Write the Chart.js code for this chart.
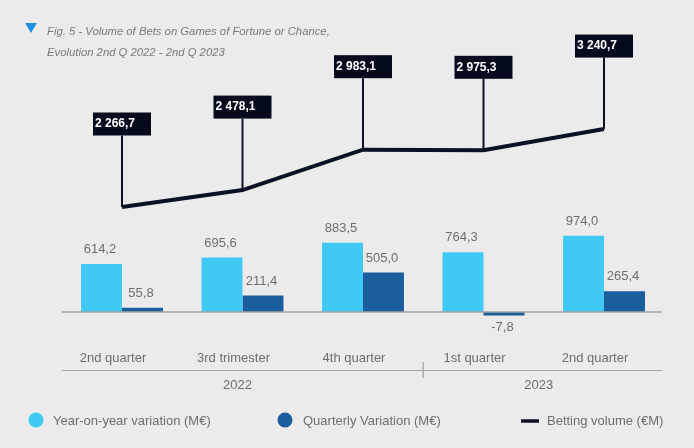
<!DOCTYPE html>
<html>
<head>
<meta charset="utf-8">
<script src="https://cdn.jsdelivr.net/npm/chart.js@4/dist/chart.umd.min.js"></script>
<style>
  html, body { margin: 0; padding: 0; background: #ebebeb; }
  #wrap { width: 694px; height: 448px; position: relative; }
</style>
</head>
<body>
<div id="wrap"><canvas id="c" width="694" height="448"></canvas></div>
<script>
const titleLines = ['Fig. 5 - Volume of Bets on Games of Fortune or Chance,', 'Evolution 2nd Q 2022 - 2nd Q 2023'];
const categories = ['2nd quarter', '3rd trimester', '4th quarter', '1st quarter', '2nd quarter'];
const years = ['2022', '2023'];
const yearGroups = [[0, 2], [3, 4]];
const seriesNames = ['Year-on-year variation (M€)', 'Quarterly Variation (M€)', 'Betting volume (€M)'];
const yoyVariation = [614.2, 695.6, 883.5, 764.3, 974.0];
const quarterlyVariation = [55.8, 211.4, 505.0, -7.8, 265.4];
const bettingVolume = [2266.7, 2478.1, 2983.1, 2975.3, 3240.7];

const FONT = "'Liberation Sans', Arial, sans-serif";
const C_LIGHT = '#41c9f6';
const C_DARK = '#1b5e9c';
const C_LINE = '#0b1226';
const C_TEXT = '#6e6e6e';

function fmt(v) {
  const parts = Math.abs(v).toFixed(1).split('.');
  return (v < 0 ? '-' : '') + parts[0].replace(/\B(?=(\d{3})+(?!\d))/g, ' ') + ',' + parts[1];
}

const decor = {
  id: 'decor',
  beforeDraw(chart) {
    const ctx = chart.ctx;
    ctx.save();
    ctx.fillStyle = '#ebebeb';
    ctx.fillRect(0, 0, chart.width, chart.height);
    ctx.fillStyle = '#1e8fe0';
    ctx.beginPath();
    ctx.moveTo(25, 23);
    ctx.lineTo(37, 23);
    ctx.lineTo(31, 33);
    ctx.closePath();
    ctx.fill();
    ctx.restore();
  },
  afterDatasetsDraw(chart) {
    const ctx = chart.ctx;
    const ys = chart.scales.y;
    const area = chart.chartArea;
    ctx.save();
    const y0 = ys.getPixelForValue(0);
    ctx.strokeStyle = '#a3a3a3';
    ctx.lineWidth = 1.5;
    ctx.beginPath();
    ctx.moveTo(area.left, y0);
    ctx.lineTo(area.right - 2, y0);
    ctx.stroke();
    ctx.font = '13px ' + FONT;
    ctx.fillStyle = C_TEXT;
    ctx.textAlign = 'center';
    ctx.textBaseline = 'middle';
    [0, 1].forEach(di => {
      const meta = chart.getDatasetMeta(di);
      const data = chart.data.datasets[di].data;
      meta.data.forEach((bar, i) => {
        const v = data[i];
        const ty = v >= 0 ? bar.y - 14.5 : bar.y + 12;
        ctx.fillText(fmt(v), bar.x - 1.5, ty);
      });
    });
    const lm = chart.getDatasetMeta(2);
    const ldata = chart.data.datasets[2].data;
    lm.data.forEach((pt, i) => {
      const bw = 58, bh = 23;
      const top = pt.y - 94.5;
      const left = pt.x - bw / 2;
      ctx.strokeStyle = C_LINE;
      ctx.lineWidth = 2;
      ctx.beginPath();
      ctx.moveTo(pt.x, top + bh);
      ctx.lineTo(pt.x, pt.y);
      ctx.stroke();
      ctx.fillStyle = '#050b1c';
      ctx.fillRect(left, top, bw, bh);
      ctx.fillStyle = '#ffffff';
      ctx.font = 'bold 12px ' + FONT;
      ctx.textAlign = 'left';
      ctx.textBaseline = 'middle';
      ctx.fillText(fmt(ldata[i]), left + 2, top + bh / 2);
    });
    ctx.restore();
  },
  afterDraw(chart) {
    const ctx = chart.ctx;
    const xs = chart.scales.x;
    const area = chart.chartArea;
    ctx.save();
    const lineY = 370.5;
    ctx.strokeStyle = '#a3a3a3';
    ctx.lineWidth = 1.2;
    ctx.beginPath();
    ctx.moveTo(area.left, lineY);
    ctx.lineTo(area.right - 2, lineY);
    const sepX = (xs.getPixelForValue(2) + xs.getPixelForValue(3)) / 2;
    ctx.moveTo(sepX, 362);
    ctx.lineTo(sepX, 378);
    ctx.stroke();
    ctx.font = '13px ' + FONT;
    ctx.fillStyle = C_TEXT;
    ctx.textAlign = 'center';
    ctx.textBaseline = 'middle';
    yearGroups.forEach((g, i) => {
      const cx = (xs.getPixelForValue(g[0]) + xs.getPixelForValue(g[1])) / 2 - 5;
      ctx.fillText(years[i], cx, 385);
    });
    const ds = chart.data.datasets;
    const ly = 421;
    ctx.textAlign = 'left';
    ctx.fillStyle = ds[0].backgroundColor;
    ctx.beginPath(); ctx.arc(36, 420, 7.5, 0, Math.PI * 2); ctx.fill();
    ctx.fillStyle = C_TEXT;
    ctx.fillText(ds[0].label, 53, ly);
    ctx.fillStyle = ds[1].backgroundColor;
    ctx.beginPath(); ctx.arc(285, 420, 7.5, 0, Math.PI * 2); ctx.fill();
    ctx.fillStyle = C_TEXT;
    ctx.fillText(ds[1].label, 303, ly);
    ctx.strokeStyle = ds[2].borderColor;
    ctx.lineWidth = 3.5;
    ctx.beginPath(); ctx.moveTo(521, 421); ctx.lineTo(539, 421); ctx.stroke();
    ctx.fillStyle = C_TEXT;
    ctx.fillText(ds[2].label, 547, ly);
    ctx.restore();
  }
};

new Chart(document.getElementById('c'), {
  data: {
    labels: categories,
    datasets: [
      { type: 'bar', label: seriesNames[0], data: yoyVariation, backgroundColor: C_LIGHT, yAxisID: 'y',
        categoryPercentage: 0.68, barPercentage: 1.0 },
      { type: 'bar', label: seriesNames[1], data: quarterlyVariation, backgroundColor: C_DARK, yAxisID: 'y',
        categoryPercentage: 0.68, barPercentage: 1.0, minBarLength: 3.5 },
      { type: 'line', label: seriesNames[2], data: bettingVolume, borderColor: C_LINE, backgroundColor: C_LINE,
        borderWidth: 4, pointRadius: 0, pointHoverRadius: 0, tension: 0, yAxisID: 'y1', clip: false }
    ]
  },
  options: {
    responsive: false,
    animation: false,
    devicePixelRatio: 1,
    layout: { padding: { left: 47, right: 29.75, top: 10, bottom: 78 } },
    plugins: {
      legend: { display: false },
      tooltip: { enabled: false },
      title: {
        display: true,
        text: titleLines,
        align: 'start',
        color: '#7a7a7a',
        font: { family: FONT, size: 11.3, style: 'italic', weight: 'normal', lineHeight: 21 / 11.3 },
        padding: { top: 11, bottom: 0 }
      }
    },
    scales: {
      x: {
        grid: { display: false, drawTicks: false },
        border: { display: false },
        ticks: { color: C_TEXT, font: { family: FONT, size: 13 }, padding: 4, maxRotation: 0, labelOffset: -9 }
      },
      y: {
        position: 'left',
        min: -439.3,
        max: 3180,
        grid: { display: false },
        border: { display: false },
        ticks: { display: false },
        afterFit: s => { s.width = 14.75; }
      },
      y1: {
        position: 'right',
        display: false,
        min: 524.2,
        max: 4066.7
      }
    }
  },
  plugins: [decor]
});
</script>
</body>
</html>
